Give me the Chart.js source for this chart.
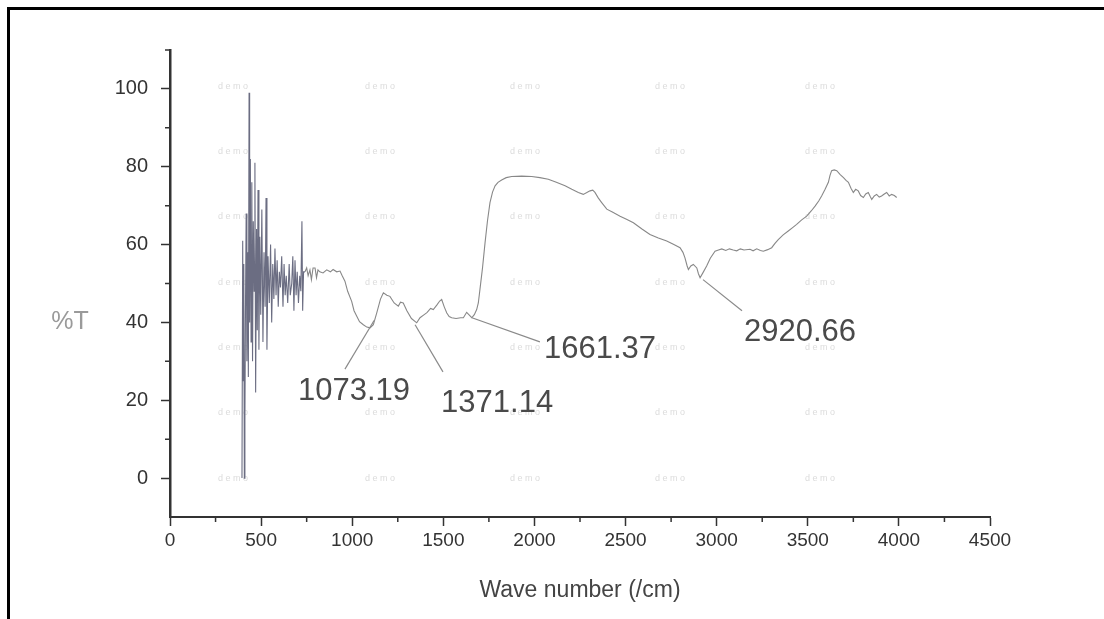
<!DOCTYPE html>
<html>
<head>
<meta charset="utf-8">
<script src="https://cdn.jsdelivr.net/npm/chart.js@4.4.1/dist/chart.umd.min.js"></script>
<style>
  body { margin: 0; background: #fff; }
  #wrap { position: relative; width: 1104px; height: 619px; overflow: hidden; }
  #frame { position: absolute; left: 7px; top: 7px; width: 1200px; height: 700px;
           border-top: 3px solid #000; border-left: 3px solid #000; pointer-events: none; }
  canvas { position: absolute; left: 0; top: 0; }
</style>
</head>
<body>
<div id="wrap">
  <canvas id="ftir" width="1104" height="619"></canvas>
  <div id="frame"></div>
</div>
<script>
// wave number (/cm) and transmittance (%T)
var wave = [395, 399, 402, 405, 408, 411, 414, 418, 422, 426, 430, 434, 437, 441, 445, 449, 453, 457, 462, 466,
  470, 475, 479, 483, 488, 493, 498, 504, 510, 516, 522, 527, 532, 538, 545, 552, 558, 564, 570, 576,
  582, 588, 594, 600, 606, 613, 620, 626, 632, 638, 646, 654, 660, 668, 674, 680, 686, 692, 698, 705,
  712, 718, 724, 728, 733, 741, 750, 758, 768, 776, 785, 796, 804, 812, 822, 840, 860, 880, 895, 915,
  933, 945, 960, 975, 997, 1010, 1025, 1040, 1061, 1080, 1098, 1116, 1135, 1155, 1171, 1190, 1207, 1230, 1253, 1265,
  1280, 1300, 1325, 1354, 1372, 1395, 1410, 1430, 1445, 1465, 1480, 1491, 1505, 1519, 1532, 1546, 1570, 1595, 1610, 1628,
  1640, 1656, 1670, 1683, 1692, 1701, 1715, 1729, 1742, 1756, 1770, 1784, 1800, 1820, 1845, 1875, 1930, 1985, 2030, 2076,
  2120, 2168, 2205, 2241, 2268, 2285, 2305, 2320, 2332, 2350, 2369, 2397, 2430, 2470, 2505, 2543, 2590, 2634, 2680, 2726,
  2765, 2799, 2815, 2826, 2838, 2845, 2858, 2872, 2891, 2900, 2909, 2925, 2945, 2965, 2991, 3010, 3028, 3050, 3070, 3091,
  3110, 3130, 3150, 3183, 3200, 3220, 3240, 3256, 3280, 3302, 3320, 3338, 3365, 3393, 3415, 3439, 3465, 3494, 3520, 3540,
  3560, 3576, 3595, 3613, 3622, 3631, 3645, 3659, 3678, 3696, 3710, 3723, 3737, 3750, 3763, 3777, 3790, 3805, 3818, 3832,
  3842, 3851, 3865, 3878, 3892, 3905, 3920, 3933, 3947, 3960, 3975, 3988];
var trans = [0, 61, 25, 55, 0, 15, 42, 68, 30, 58, 26, 99, 40, 82, 35, 76, 30, 66, 48, 81,
  22, 64, 38, 74, 33, 62, 42, 69, 35, 58, 44, 72, 33, 57, 45, 60, 40, 55, 46, 59,
  47, 56, 44, 53, 49, 57, 44, 55, 47, 52, 45, 55, 47, 50, 57, 43, 56, 47, 53, 45,
  52, 48, 66, 43, 53, 53, 54, 52, 53.5, 51, 54, 54, 51.5, 53.5, 53, 52.7, 53.5, 53, 53.6, 53,
  53.2, 52, 50.6, 48, 45.4, 43, 41.6, 40.2, 39.4, 38.8, 38.6, 39.4, 42.5, 46, 47.6, 47, 46.7, 45, 44.2, 45.2,
  45, 43, 41, 39.9, 41.2, 42, 42.5, 43.6, 43.3, 44.5, 45.5, 45.9, 44, 42.4, 41.5, 41.2, 41, 41.2, 41.2, 42.6,
  42, 41.2, 42, 43.3, 45, 48.5, 54, 60.5, 66, 70.8, 73.5, 75.1, 76, 76.6, 77.2, 77.5, 77.6, 77.5, 77.2, 76.8,
  76, 75.1, 74.2, 73.4, 72.9, 73.3, 73.8, 74, 73.4, 72, 70.8, 69.1, 68.3, 67.3, 66.5, 65.6, 64, 62.6, 61.7, 60.9,
  60, 59.2, 58, 56.6, 54.5, 53.6, 54.5, 54.9, 54, 52.5, 51.5, 52.8, 54.5, 56.5, 58.3, 58.6, 58.9, 58.5, 58.9, 58.6,
  58.4, 58.9, 58.6, 58.8, 58.4, 58.9, 58.5, 58.3, 58.7, 59.2, 60.3, 61.3, 62.5, 63.5, 64.3, 65.2, 66.3, 67.3, 68.7, 69.9,
  71.2, 72.5, 74.2, 76, 77.8, 79, 79.2, 79, 78, 77.2, 76.5, 76, 74.5, 73.4, 74.2, 73.8, 72.6, 72.1, 73, 73.4,
  72.4, 71.6, 72.5, 72.9, 72.2, 72.5, 73, 73.4, 72.5, 72.9, 72.6, 72.1];

var xTicks = [0, 500, 1000, 1500, 2000, 2500, 3000, 3500, 4000, 4500];
var yTicks = [0, 20, 40, 60, 80, 100];

// peak labels: text, point on the curve, end of the leader line, text centre (data units)
var peakLabels = ['1073.19', '1371.14', '1661.37', '2920.66'];
var peakFrom = [[1120, 40.5], [1345, 39.4], [1657, 41.2], [2925, 51]];
var peakTo = [[960, 28], [1498, 27.3], [2030, 35], [3139, 43]];
var peakText = [[1010, 22.2], [1795, 19.1], [2360, 33], [3457, 37.4]];

// faint "demo" watermark grid of the scan
var demoX = [346, 1152, 1948, 2744, 3567];
var demoY = [100.5, 83.8, 67.3, 50.3, 33.5, 16.8, 0];

var points = [];
for (var i = 0; i < wave.length; i++) {
    points.push({x: wave[i], y: trans[i]});
}

var FONT = "'Liberation Sans', Arial, sans-serif";

var extras = {
    id: 'extras',
    beforeDatasetsDraw: function (chart) {
        var ctx = chart.ctx, xs = chart.scales.x, ys = chart.scales.y;
        ctx.save();
        ctx.fillStyle = '#dcdcdc';
        ctx.font = '9px ' + FONT;
        ctx.textAlign = 'center';
        ctx.textBaseline = 'middle';
        for (var a = 0; a < demoX.length; a++) {
            for (var b = 0; b < demoY.length; b++) {
                ctx.fillText('d e m o', xs.getPixelForValue(demoX[a]), ys.getPixelForValue(demoY[b]));
            }
        }
        ctx.restore();
    },
    afterDraw: function (chart) {
        var ctx = chart.ctx, xs = chart.scales.x, ys = chart.scales.y;
        ctx.save();
        // minor ticks
        ctx.strokeStyle = '#333';
        ctx.lineWidth = 1.5;
        ctx.beginPath();
        for (var v = 250; v < 4500; v += 500) {
            var px = xs.getPixelForValue(v);
            ctx.moveTo(px, xs.top);
            ctx.lineTo(px, xs.top + 5);
        }
        for (var w = 10; w <= 110; w += 20) {
            var py = ys.getPixelForValue(w);
            ctx.moveTo(ys.right - 5, py);
            ctx.lineTo(ys.right, py);
        }
        ctx.stroke();

        // peak leader lines and labels
        ctx.strokeStyle = '#8a8a8a';
        ctx.lineWidth = 1.2;
        ctx.fillStyle = '#4a4a4a';
        ctx.font = '31px ' + FONT;
        ctx.textAlign = 'center';
        ctx.textBaseline = 'middle';
        for (var k = 0; k < peakLabels.length; k++) {
            ctx.beginPath();
            ctx.moveTo(xs.getPixelForValue(peakFrom[k][0]), ys.getPixelForValue(peakFrom[k][1]));
            ctx.lineTo(xs.getPixelForValue(peakTo[k][0]), ys.getPixelForValue(peakTo[k][1]));
            ctx.stroke();
            ctx.fillText(peakLabels[k], xs.getPixelForValue(peakText[k][0]), ys.getPixelForValue(peakText[k][1]));
        }

        // y label
        ctx.fillStyle = '#9a9a9a';
        ctx.font = '25px ' + FONT;
        ctx.fillText('%T', 70, ys.getPixelForValue(40));
        ctx.restore();
    }
};

var chart = new Chart(document.getElementById('ftir').getContext('2d'), {
    type: 'line',
    data: {
        datasets: [{
            data: points,
            borderColor: '#888',
            borderWidth: 1.1,
            pointRadius: 0,
            tension: 0,
            segment: {
                borderColor: function (c) { return c.p0.parsed.x < 735 ? '#6b6d82' : '#888'; }
            }
        }]
    },
    options: {
        responsive: false,
        animation: false,
        layout: { padding: { left: 0, top: 50, right: 114, bottom: 0 } },
        plugins: { legend: { display: false }, tooltip: { enabled: false } },
        scales: {
            x: {
                type: 'linear',
                min: 0,
                max: 4500,
                afterBuildTicks: function (s) { s.ticks = xTicks.map(function (v) { return {value: v}; }); },
                afterFit: function (s) { s.height = 102; },
                ticks: {
                    color: '#333', font: { family: FONT, size: 19 }, padding: 3, maxRotation: 0,
                    callback: function (v) { return String(v); }
                },
                grid: { drawOnChartArea: false, tickLength: 9, color: '#333', tickWidth: 1.5 },
                border: { color: '#333', width: 2 },
                title: {
                    display: true,
                    text: 'Wave number (/cm)',
                    color: '#444',
                    font: { family: FONT, size: 23 },
                    padding: { top: 15, bottom: 15 }
                }
            },
            y: {
                min: -10,
                max: 110,
                afterBuildTicks: function (s) { s.ticks = yTicks.map(function (v) { return {value: v}; }); },
                afterFit: function (s) { s.width = 170; },
                ticks: {
                    color: '#333', font: { family: FONT, size: 20 }, padding: 13,
                    callback: function (v) { return String(v); }
                },
                grid: { drawOnChartArea: false, tickLength: 9, color: '#333', tickWidth: 1.5 },
                border: { color: '#333', width: 2.5 }
            }
        }
    },
    plugins: [extras]
});
</script>
</body>
</html>
